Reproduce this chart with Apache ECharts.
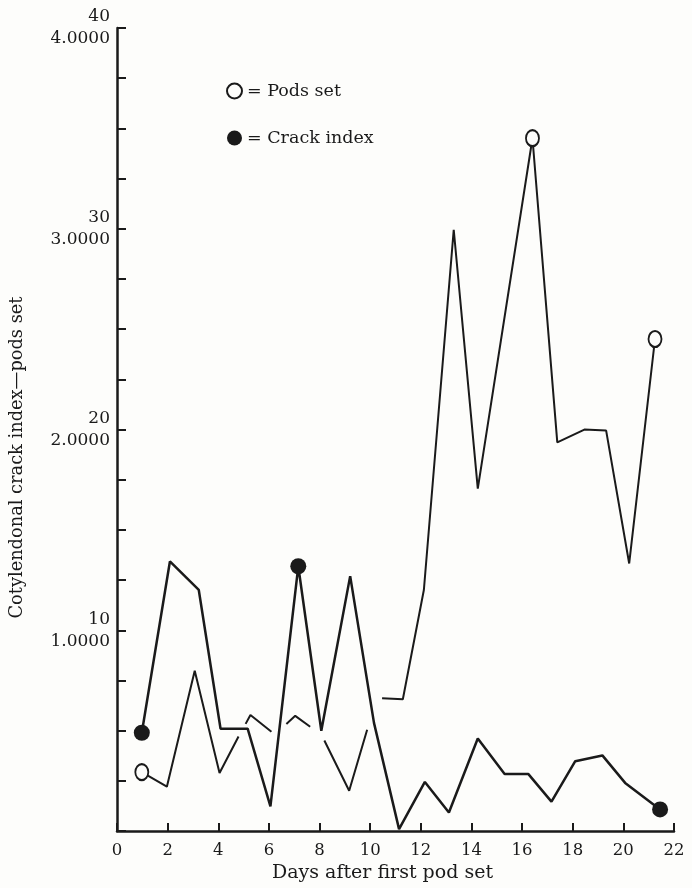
<!DOCTYPE html>
<html>
<head>
<meta charset="utf-8">
<script src="https://cdn.jsdelivr.net/npm/echarts@6/dist/echarts.min.js"></script>
<style>
html,body{margin:0;padding:0;background:#fdfdfb;}
#chart{width:692px;height:888px;}
</style>
</head>
<body>
<div id="chart"></div>
<script>
// ---- data ----
// Pods set (open circles); null marks a break in the hand-drawn line
var podsDays   = [0.98,1.97,3.07,4.05,4.80,null,5.08,5.27,6.10,null,6.69,7.04,7.63,null,8.19,9.17,9.88,null,10.47,11.29,12.12,13.30,14.25,16.41,17.39,18.46,19.32,20.23,21.25];
var podsValues = [2.94,2.21,7.99,2.89,4.71,null,5.34,5.78,4.95,null,5.34,5.74,5.20,null,4.51,2.01,5.05,null,6.62,6.57,12.01,29.95,17.06,34.51,19.36,20.00,19.95,13.33,24.51];
var podsMarked = [0, 23, 28];

// Cotyledonal crack index (filled circles)
var crackDays  = [0.98,2.09,3.23,4.09,5.16,6.06,7.16,8.07,9.21,10.15,11.14,12.16,13.11,14.25,15.31,16.25,17.16,18.10,19.17,20.07,21.45];
var crackIndex = [0.490,1.343,1.201,0.510,0.510,0.123,1.319,0.500,1.270,0.539,0.010,0.245,0.093,0.461,0.284,0.284,0.147,0.348,0.377,0.240,0.108];
var crackMarked = [0, 6, 20];

// tick labels of the shared left axis
var yMajor       = [10, 20, 30, 40];
var yLabelsPods  = ['10', '20', '30', '40'];
var yLabelsCrack = ['1.0000', '2.0000', '3.0000', '4.0000'];

var seriesNames = ['Pods set', 'Crack index'];
var xTitle = 'Days after first pod set';
var yTitle = 'Cotylendonal crack index\u2014pods set';

// ---- build ----
var INK = '#1a1a1a';
var FONT = 'DejaVu Serif';
var BG = '#fdfdfb';
var ellipse = 'path://M0,1a1,1 0 1,0 2,0a1,1 0 1,0 -2,0z';

function build(days, vals, marked, sym, size) {
  return days.map(function (d, i) {
    var v = vals[i];
    var item = { value: (d == null || v == null) ? ['-', '-'] : [d, v] };
    if (marked.indexOf(i) >= 0) { item.symbol = sym; item.symbolSize = size; }
    return item;
  });
}

var chart = echarts.init(document.getElementById('chart'), null, { renderer: 'canvas' });
chart.setOption({
  backgroundColor: BG,
  animation: false,
  textStyle: { fontFamily: FONT, color: INK },
  grid: { left: 116, right: 18, top: 20, bottom: 52, containLabel: false },
  legend: {
    orient: 'vertical',
    left: 221,
    top: 77,
    itemWidth: 15,
    itemHeight: 16,
    itemGap: 29,
    formatter: '= {name}',
    textStyle: { fontFamily: FONT, fontSize: 17.5, color: INK },
    data: [
      { name: seriesNames[0], icon: ellipse, itemStyle: { color: BG, borderColor: INK, borderWidth: 2 } },
      { name: seriesNames[1], icon: 'circle', itemStyle: { color: INK } }
    ]
  },
  xAxis: {
    type: 'value',
    min: 0, max: 22, interval: 2,
    name: xTitle,
    nameLocation: 'middle',
    nameGap: 31,
    nameTextStyle: { fontFamily: FONT, fontSize: 19, color: INK, padding: [0, 26, 0, 0] },
    axisLine: { lineStyle: { color: INK, width: 2.5 } },
    axisTick: { inside: true, length: 8, lineStyle: { color: INK, width: 2 } },
    axisLabel: { margin: 11, fontFamily: FONT, fontSize: 16.5, color: INK },
    splitLine: { show: false }
  },
  yAxis: [
    {
      type: 'value',
      min: 0, max: 40, interval: 2.5,
      name: yTitle,
      nameLocation: 'middle',
      nameRotate: 90,
      nameGap: 91,
      nameTextStyle: { fontFamily: FONT, fontSize: 17.8, color: INK, padding: [0, 56, 0, 0] },
      axisLine: { show: true, lineStyle: { color: INK, width: 2.5 } },
      axisTick: { inside: true, length: 9, lineStyle: { color: INK, width: 2 } },
      axisLabel: {
        margin: 7,
        fontFamily: FONT, fontSize: 17, color: INK,
        lineHeight: 22,
        align: 'right',
        padding: [12, 0, 0, 0],
        formatter: function (v) {
          var k = yMajor.indexOf(v);
          return k < 0 ? '' : yLabelsPods[k] + '\n' + yLabelsCrack[k];
        }
      },
      splitLine: { show: false }
    },
    {
      type: 'value',
      min: 0, max: 4, interval: 0.25,
      show: false
    }
  ],
  series: [
    {
      name: seriesNames[0],
      type: 'line',
      yAxisIndex: 0,
      symbol: 'none',
      connectNulls: false,
      clip: false,
      lineStyle: { color: INK, width: 2 },
      itemStyle: { color: BG, borderColor: INK, borderWidth: 2 },
      z: 3,
      data: build(podsDays, podsValues, podsMarked, ellipse, [13, 16])
    },
    {
      name: seriesNames[1],
      type: 'line',
      yAxisIndex: 1,
      symbol: 'none',
      clip: false,
      lineStyle: { color: INK, width: 2.5 },
      itemStyle: { color: INK },
      z: 3,
      data: build(crackDays, crackIndex, crackMarked, 'circle', 16)
    }
  ]
});
</script>
</body>
</html>
